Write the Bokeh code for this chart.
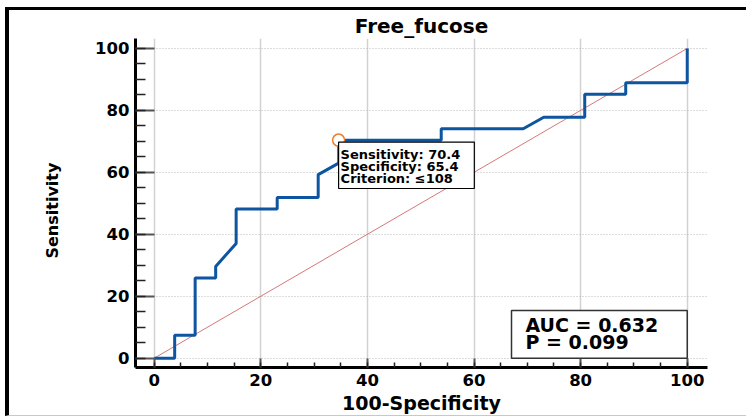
from bokeh.plotting import figure
from bokeh.models import Label, SingleIntervalTicker, Range1d, Title
from bokeh.embed import file_html
from bokeh.resources import INLINE

# ROC curve for free fucose (percent scale)
fpr = [0, 3.85, 3.85, 7.69, 7.69, 11.54, 11.54, 15.38, 15.38, 23.08, 23.08,
       30.77, 30.77, 34.62, 34.62, 53.85, 53.85, 69.23, 73.08, 80.77, 80.77,
       88.46, 88.46, 100, 100]
tpr = [0, 0, 7.41, 7.41, 25.93, 25.93, 29.63, 37.04, 48.15, 48.15, 51.85,
       51.85, 59.26, 62.96, 70.37, 70.37, 74.07, 74.07, 77.78, 77.78, 85.19,
       85.19, 88.89, 88.89, 100]

# chance line
diag_x = [0, 100]
diag_y = [0, 100]

# optimal cut-off
crit_sens = 70.4
crit_spec = 65.4
crit_value = "≤108"
auc = 0.632
p_value = 0.099

FONT = "DejaVu Sans"

p = figure(width=741, height=409, output_backend="svg", toolbar_location=None,
           x_range=Range1d(-3.5, 103.8), y_range=Range1d(-3, 103.2),
           min_border_left=118, min_border_right=43, min_border_top=25,
           min_border_bottom=52)
p.styles = {"margin-left": "5px", "margin-top": "7px",
            "border-top": "3px solid #000000",
            "border-left": "4px solid #000000",
            "border-bottom": "1px solid #c8c8c8"}

p.title.text = "Free_fucose"
p.title.align = "center"
p.title.text_font = FONT
p.title.text_font_size = "20px"
p.title.text_font_style = "bold"
p.title.text_color = "#000000"
p.title.standoff = 2

p.outline_line_color = None
p.background_fill_color = "white"
p.border_fill_color = "white"

for ax, ticklen, minorlen in ((p.xaxis[0], 9, 5), (p.yaxis[0], 19, 10)):
    ax.ticker = SingleIntervalTicker(interval=20, num_minor_ticks=4)
    ax.axis_line_width = 3
    ax.axis_line_color = "#000000"
    ax.major_tick_in = ticklen
    ax.major_tick_out = 0
    ax.minor_tick_in = minorlen
    ax.minor_tick_out = 0
    ax.major_tick_line_color = "#555555"
    ax.major_tick_line_width = 2
    ax.minor_tick_line_color = "#222222"
    ax.minor_tick_line_width = 1.5
    ax.major_label_text_font = FONT
    ax.major_label_text_font_style = "bold"
    ax.major_label_text_font_size = "16.5px"
    ax.major_label_text_color = "#000000"
    ax.major_label_standoff = 6
    ax.axis_label_text_font = FONT
    ax.axis_label_text_font_style = "bold"
    ax.axis_label_text_color = "#000000"

p.xaxis.axis_label = "100-Specificity"
p.xaxis.axis_label_text_font_size = "19px"
p.xaxis.axis_label_standoff = 3

# vertical axis title, placed a little below the middle of the axis
y_title = Title(text="Sensitivity", align="left", offset=109, standoff=62,
                text_font=FONT, text_font_style="bold", text_font_size="16px",
                text_color="#000000")
p.add_layout(y_title, "left")

p.xgrid.ticker = SingleIntervalTicker(interval=20)
p.xgrid.grid_line_color = "#d2d2d2"
p.xgrid.grid_line_width = 1.5
p.ygrid.ticker = SingleIntervalTicker(interval=20)
p.ygrid.grid_line_color = "#b8b8b8"
p.ygrid.grid_line_width = 1
p.ygrid.grid_line_dash = "1 2"

p.line(diag_x, diag_y, line_color="#d77777", line_width=1)
p.line(fpr, tpr, line_color="#0d55a0", line_width=3)

crit_fpr = round(100 - crit_spec, 1)
p.scatter([crit_fpr], [crit_sens], marker="circle", size=12,
          fill_color="white", line_color="#f07d28", line_width=1.5)

crit_label = Label(
    x=crit_fpr, y=crit_sens, anchor="top_left", y_offset=-2,
    text=f"Sensitivity: {crit_sens}\nSpecificity: {crit_spec}\nCriterion: {crit_value}",
    text_font=FONT, text_font_style="bold", text_font_size="13px",
    text_line_height=0.78, text_color="#000000",
    background_fill_color="white", border_line_color="#000000",
    border_line_width=1.2, padding=dict(left=2, right=14, top=5, bottom=3))
p.add_layout(crit_label)

auc_label = Label(
    x=100, y=0, anchor="bottom_right",
    text=f"AUC = {auc}\nP = {p_value}",
    text_font=FONT, text_font_style="bold", text_font_size="19px",
    text_line_height=0.8, text_color="#000000",
    background_fill_color="white", border_line_color="#333333",
    border_line_width=1.5, padding=dict(left=14, right=29, top=3, bottom=5))
p.add_layout(auc_label)

open("out.html", "w").write(file_html(p, INLINE))
